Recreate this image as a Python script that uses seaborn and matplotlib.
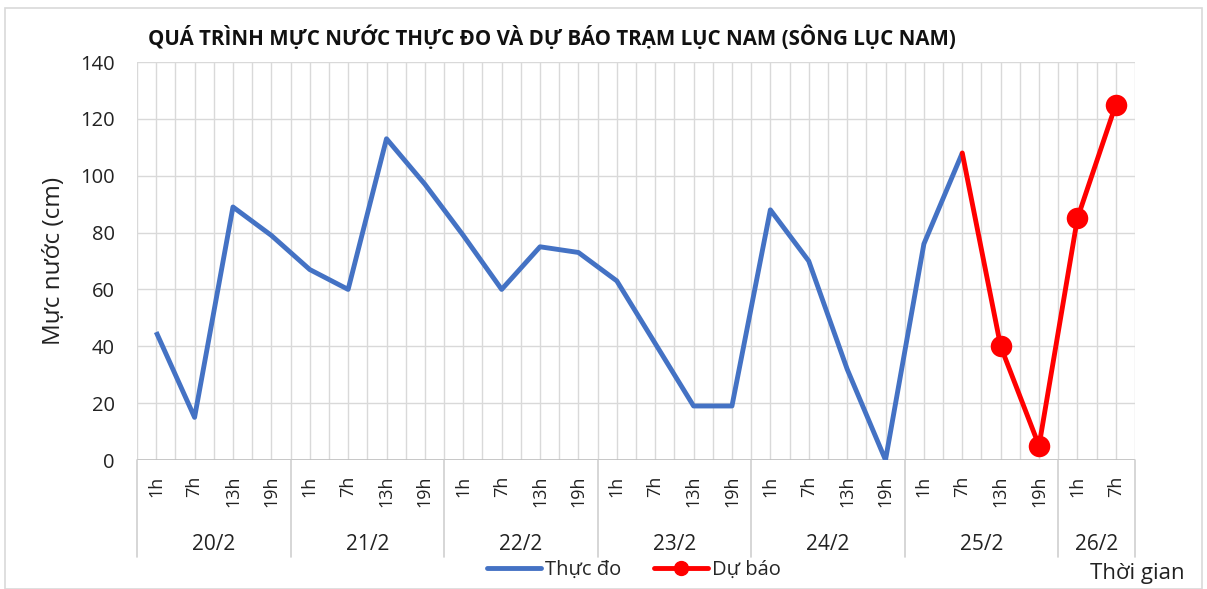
import numpy as np
import pandas as pd
import matplotlib
matplotlib.use("Agg")
import matplotlib.pyplot as plt
import matplotlib.transforms as mtransforms
from matplotlib.patches import Rectangle
from matplotlib.lines import Line2D
import seaborn as sns

# ---- data ----
days = ["20/2", "21/2", "22/2", "23/2", "24/2", "25/2", "26/2"]
hours_per_day = [4, 4, 4, 4, 4, 4, 2]
hour_names = ["1h", "7h", "13h", "19h"]
observed = [45, 15, 89, 79, 67, 60, 113, 97, 79, 60, 75, 73,
            63, 41, 19, 19, 88, 70, 32, 0, 76, 108]
forecast = [108, 40, 5, 85, 125]
forecast_start = 21  # index of 25/2 7h
title = "QUÁ TRÌNH MỰC NƯỚC THỰC ĐO VÀ DỰ BÁO TRẠM LỤC NAM (SÔNG LỤC NAM)"

hour_labels = []
for d, n in zip(days, hours_per_day):
    hour_labels += hour_names[:n]
n_cat = len(hour_labels)

sns.set_theme(style="white")
plt.rcParams["font.family"] = ["Open Sans", "DejaVu Sans"]

fig = plt.figure(figsize=(12.07, 5.89), dpi=100)
ax = fig.add_axes([137/1207, 1 - 460/589, (1135-137)/1207, (460-62)/589])

df_obs = pd.DataFrame({"x": np.arange(len(observed)), "y": observed})
df_fc = pd.DataFrame({"x": np.arange(forecast_start, forecast_start + len(forecast)), "y": forecast})

blue = "#4472C4"
red = "#FF0000"
sns.lineplot(data=df_obs, x="x", y="y", ax=ax, color=blue, linewidth=3.5,
             solid_joinstyle="round", solid_capstyle="butt", zorder=3)
sns.lineplot(data=df_fc, x="x", y="y", ax=ax, color=red, linewidth=3.5,
             solid_joinstyle="round", zorder=4)
sns.scatterplot(data=df_fc.iloc[1:], x="x", y="y", ax=ax, color=red, s=240,
                edgecolor=red, linewidth=0, zorder=5)

ax.set_xlim(-0.5, n_cat - 0.5)
ax.set_ylim(0, 140)
ax.set_yticks(np.arange(0, 141, 20))
ax.set_xticks(np.arange(n_cat))
ax.set_xticklabels(hour_labels, rotation=90, fontsize=13, color="#222222")
ax.tick_params(axis="x", length=0, pad=11)
ax.tick_params(axis="y", length=0, pad=16, labelsize=14.5, labelcolor="#222222")

grid_c = "#D9D9D9"
for v in np.arange(0, 141, 20):
    ax.axhline(v, color=grid_c, linewidth=1.0, zorder=1)
for xv in np.arange(-0.5, n_cat - 0.4, 0.5):
    ax.axvline(xv, color=grid_c, linewidth=1.0, zorder=1)
for s in ax.spines.values():
    s.set_visible(False)
ax.axhline(0, color="#BFBFBF", linewidth=1.2, zorder=2)

ax.set_xlabel("")
ax.set_ylabel("Mực nước (cm)", fontsize=17.5, color="#222222", labelpad=10)

# multi-level category axis
trans = mtransforms.blended_transform_factory(ax.transData, ax.transAxes)
bounds = [-0.5]
for n in hours_per_day:
    bounds.append(bounds[-1] + n)
sep_bottom = -(557 - 460) / 398
for b in bounds:
    ax.add_line(Line2D([b, b], [0, sep_bottom], transform=trans, color="#D0D0D0",
                       linewidth=1.2, clip_on=False))
for d, lo, hi in zip(days, bounds[:-1], bounds[1:]):
    ax.text((lo + hi) / 2, -(545 - 460) / 398, d, transform=trans, ha="center",
            va="center", fontsize=15, color="#222222")

fig.text(148/1207, 1 - 38/589, title, fontsize=14.8, fontweight="bold",
         ha="left", va="center", color="#111111")

# legend
handles = [Line2D([], [], color=blue, linewidth=3.5),
           Line2D([], [], color=red, linewidth=3.5, marker="o", markersize=10)]
fig.legend(handles, ["Thực đo", "Dự báo"], loc="center",
           bbox_to_anchor=(634/1207, 19/589), ncol=2, frameon=False,
           fontsize=14.5, handlelength=2.7, handletextpad=0.2, columnspacing=1.6)
fig.text(1137/1207, 16/589, "Thời gian", fontsize=16, ha="center", va="center",
         color="#222222")

fig.patches.append(Rectangle((5/1207, 0), 1197/1207, 1 - 8/589, transform=fig.transFigure,
                             fill=False, edgecolor="#D9D9D9", linewidth=1.2))

fig.savefig("out.png", dpi=100)
